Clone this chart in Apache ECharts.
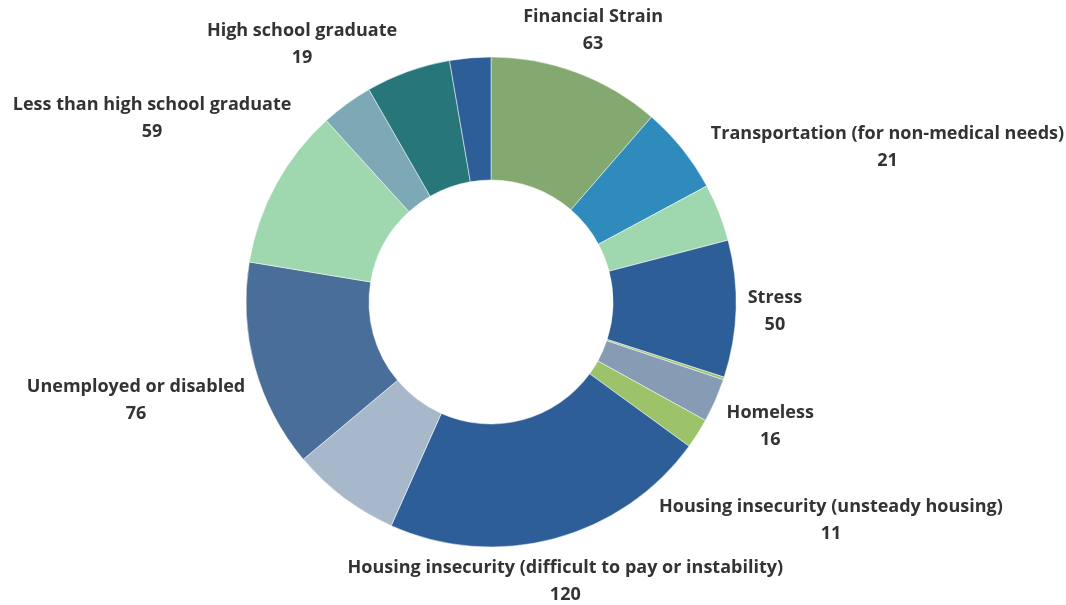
<!DOCTYPE html>
<html>
<head>
<meta charset="utf-8">
<title>Social needs</title>
<script src="https://cdn.jsdelivr.net/npm/echarts@6/dist/echarts.min.js"></script>
<style>
  html, body { margin: 0; padding: 0; background: #ffffff; }
  #chart { width: 1066px; height: 605px; }
</style>
</head>
<body>
<div id="chart"></div>
<script>
// Slices in clockwise order starting at 12 o'clock; an empty name means the slice carries no label.
const categories = [
  'Financial Strain',
  '',
  'Transportation (for non-medical needs)',
  'Stress',
  '',
  'Homeless',
  'Housing insecurity (unsteady housing)',
  'Housing insecurity (difficult to pay or instability)',
  '',
  'Unemployed or disabled',
  'Less than high school graduate',
  'High school graduate',
  '',
  ''
];
const counts = [63, 32, 21, 50, 1, 16, 11, 120, 40, 76, 59, 19, 31, 15];
const sliceColors = [
  '#83a971', '#2e8bbc', '#9fd8ae', '#2e5e98', '#9bc36a', '#869cb5', '#9dc36a',
  '#2e5e98', '#a8b8cb', '#4a6e9a', '#9fd8ae', '#7da9b7', '#27767a', '#2e5e98'
];
// Distance (px) from the pie centre to the centre of each label block, along the slice's mid angle.
const labelRadius = [292, 0, 426, 284, 0, 305, 403, 288, 0, 368, 386, 321, 0, 0];

const chart = echarts.init(document.getElementById('chart'), null, { renderer: 'canvas' });

const seriesData = counts.map((v, i) => ({
  name: categories[i],
  value: v,
  itemStyle: { color: sliceColors[i] },
  label: { show: categories[i] !== '' }
}));

const textStyle = {
  fontFamily: 'Open Sans', fontWeight: 'bold', fontSize: 18,
  color: '#333333', lineHeight: 27, align: 'center'
};

chart.setOption({
  animation: false,
  backgroundColor: '#ffffff',
  series: [{
    type: 'pie',
    center: [491, 302],
    radius: [122, 245],
    startAngle: 90,
    clockwise: true,
    avoidLabelOverlap: false,
    itemStyle: { borderColor: '#ffffff', borderWidth: 0.5 },
    label: {
      position: 'outside',
      formatter: p => '{n|' + p.name + '}\n{v|' + p.value + '}',
      rich: { n: textStyle, v: textStyle }
    },
    labelLine: { show: false },
    emphasis: { disabled: true },
    // Each label block is centred on the slice's mid-angle ray, at labelRadius from the centre.
    labelLayout: function (p) {
      const layout = chart.getModel().getSeriesByIndex(0).getData().getItemLayout(p.dataIndex);
      if (!layout) { return {}; }
      const mid = (layout.startAngle + layout.endAngle) / 2;
      const d = labelRadius[p.dataIndex];
      return {
        x: layout.cx + d * Math.cos(mid),
        y: layout.cy + d * Math.sin(mid) + 1.5,
        align: 'center',
        verticalAlign: 'middle'
      };
    },
    data: seriesData
  }]
});
</script>
</body>
</html>
